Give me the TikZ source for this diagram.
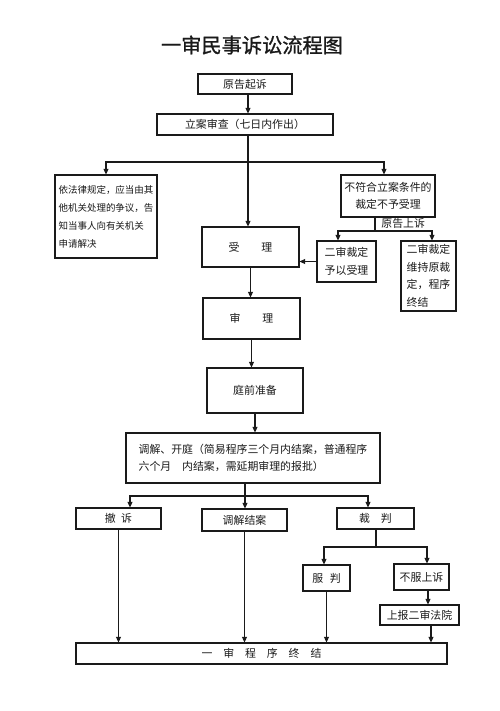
\documentclass[tikz,border=0pt]{standalone}
\usepackage{fontspec}
\usepackage{xcolor}
\usepackage{tikz}
\usetikzlibrary{arrows.meta,positioning,calc}
\newfontfamily\cjk{Noto Sans CJK SC}
\newfontfamily\cjkhead[FakeBold=1]{Noto Sans CJK SC}
\definecolor{ink}{HTML}{1A1A1A}
\tikzset{
  box/.style={rectangle, draw=ink, line width=0.7pt, fill=white, align=center,
              font=\cjk\fontsize{6.2}{10}\selectfont, inner sep=2pt, text=ink},
  note/.style={box, align=left, font=\cjk\fontsize{5.4}{10.2}\selectfont},
  sz/.style 2 args={minimum width=#1*0.02cm, minimum height=#2*0.02cm},
  fl/.style={-{Triangle[length=1.1mm,width=1mm]}, draw=ink, line width=0.6pt},
  ln/.style={draw=ink, line width=0.6pt},
  lbl/.style={font=\cjk\fontsize{6.2}{8}\selectfont, text=ink},
  head/.style={font=\cjkhead\fontsize{11.5}{14}\selectfont, text=ink}
}
\newcommand{\gap}[1]{\hspace{#1em}}

\begin{document}
\begin{tikzpicture}[x=0.02cm, y=-0.02cm]
  \useasboundingbox (0,0) rectangle (500,711);
  \node[head] (title) at (252,45) {一审民事诉讼流程图};
  \node[box, sz={94}{20}] (sue) at (245,84) {原告起诉};
  \node[box, sz={176}{21}] (filing) at (245,124.5) {立案审查（七日内作出）};
  \node[note, sz={102}{83}] (refer) at (106,216.5) {依法律规定，应当由其\\他机关处理的争议，告\\知当事人向有关机关\\申请解决};
  \node[box, sz={92}{42}] (reject) at (388,196) {不符合立案条件的\\裁定不予受理};
  \node[box, sz={97}{40}] (accept) at (250.5,247) {受\gap{2}理};
  \node[box, align=left, sz={59}{41}] (appeal2ok) at (346.5,261.5) {二审裁定\\予以受理};
  \node[box, align=left, sz={55}{70}] (appeal2keep) at (428.5,276) {二审裁定\\维持原裁\\定，程序\\终结};
  \node[box, sz={97}{41}] (trial) at (251.5,318.5) {审\gap{2}理};
  \node[box, sz={96}{45}] (prep) at (255,390.5) {庭前准备};
  \node[box, align=left, sz={254}{50}] (hearing) at (253,458) {调解、开庭（简易程序三个月内结案，普通程序\\六个月\gap{1}内结案，需延期审理的报批）};
  \node[box, sz={85}{21}] (withdraw) at (118.5,518.5) {撤\gap{0.5}诉};
  \node[box, sz={85}{22}] (mediate) at (244.5,520) {调解结案};
  \node[box, sz={77}{21}] (judge) at (375.5,518.5) {裁\gap{1}判};
  \node[box, sz={47}{26}] (obey) at (326.5,578) {服\gap{0.6}判};
  \node[box, sz={55}{26}] (appeal) at (421.5,577) {不服上诉};
  \node[box, sz={79}{20}] (report) at (419.5,615) {上报二审法院};
  \node[box, sz={371}{21}] (close) at (261.5,653.5) {一\gap{1}审\gap{1}程\gap{1}序\gap{1}终\gap{1}结};

  \coordinate (split) at (248,162);
  \coordinate (up) at (375,231);
  \coordinate (fork) at (245,496);
  \coordinate (fork2) at (376,547);

  \draw[fl] (sue.south -| split) -- (split |- filing.north);
  \draw[ln] (filing.south -| split) -- (split);
  \draw[fl] (split) -| (refer.north);
  \draw[fl] (split) -| ([xshift=-0.08cm]reject.north);
  \draw[fl] (split) -- (split |- accept.north);
  \draw[ln] (reject.south -| up) -- node[lbl, right, pos=0.4]{原告上诉} (up);
  \draw[fl] (up) -| ([xshift=-0.17cm]appeal2ok.north);
  \draw[fl] (up) -| ([xshift=0.07cm]appeal2keep.north);
  \draw[fl] (appeal2ok.west) -- (appeal2ok.west -| accept.east);
  \draw[fl] (accept.south) -- (accept.south |- trial.north);
  \draw[fl] (trial.south) -- (trial.south |- prep.north);
  \draw[fl] (prep.south) -- (prep.south |- hearing.north);
  \draw[ln] (hearing.south -| fork) -- (fork);
  \draw[fl] (fork) -| ([xshift=0.23cm]withdraw.north);
  \draw[fl] (fork) -- (fork |- mediate.north);
  \draw[fl] (fork) -| ([xshift=-0.15cm]judge.north);
  \draw[fl] (withdraw.south) -- (withdraw.south |- close.north);
  \draw[fl] (mediate.south) -- (mediate.south |- close.north);
  \draw[ln] (judge.south -| fork2) -- (fork2);
  \draw[fl] (fork2) -| ([xshift=-0.05cm]obey.north);
  \draw[fl] (fork2) -| ([xshift=0.11cm]appeal.north);
  \draw[fl] ([xshift=0.13cm]appeal.south) -- ([xshift=0.13cm]appeal.south |- report.north);
  \draw[fl] (obey.south) -- (obey.south |- close.north);
  \draw[fl] ([xshift=0.23cm]report.south) -- ([xshift=0.23cm]report.south |- close.north);
\end{tikzpicture}
\end{document}
